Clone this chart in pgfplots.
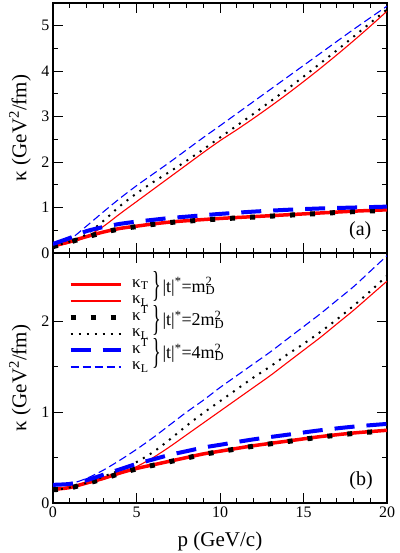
\documentclass[border=0pt]{standalone}
\usepackage{fontspec}
\setmainfont{Liberation Serif}
\usepackage{graphicx}
\usepackage{pgfplots}
\pgfplotsset{compat=1.18}

\definecolor{gred}{RGB}{255,0,0}
\definecolor{gblue}{RGB}{0,0,255}

\pgfplotsset{
  kapanel/.style={
    scale only axis, width=334pt, height=250pt,
    xmin=0, xmax=20, xtick={0,5,...,20},
    minor x tick num=4, minor y tick num=1,
    tick align=inside, major tick length=10pt, minor tick length=5pt,
    axis line style={line width=1.2pt},
    every tick/.style={line width=1pt, black},
    /pgf/number format/assume math mode=true,
    tick label style={font=\fontsize{16}{16}\selectfont},
    label style={font=\fontsize{21}{21}\selectfont},
    ylabel={κ (GeV\textsuperscript{2}/fm)},
    ylabel style={at={(axis description cs:-0.099,0.5)}, anchor=center},
    legend image code/.code={\draw[#1] (0pt,0pt) -- (50pt,0pt);},
  },
  kTm/.style={gred, line width=3.5pt, smooth},
  kLm/.style={gred, line width=1.1pt, smooth},
  kT2/.style={black, line width=5pt, dash pattern=on 5pt off 15pt, smooth},
  kL2/.style={black, line width=2pt, dash pattern=on 2pt off 6pt, smooth},
  kT4/.style={gblue, line width=4pt, dash pattern=on 20pt off 12pt, smooth},
  kL4/.style={gblue, line width=1.1pt, dash pattern=on 8pt off 4pt, smooth},
}
\tikzset{
  brc/.style={inner sep=0pt, font=\fontsize{36}{36}\selectfont},
  grp/.style={anchor=west, inner sep=0pt, font=\fontsize{18}{18}\selectfont},
}
\newcommand{\mD}{m\rlap{\textsubscript{D}}\textsuperscript{2}}

\begin{document}
\begin{tikzpicture}
\begin{axis}[kapanel, name=top,
  ymin=0, ymax=5.5, ytick={0,1,...,5}, xticklabels={}]
\addplot[kTm] coordinates {(0,0.15)(1,0.25)(2,0.36)(3,0.46)(4,0.54)(5,0.59)(6,0.64)(7,0.68)(8,0.71)(10,0.76)(12,0.80)(14,0.84)(16,0.88)(18,0.92)(20,0.95)};
\addplot[kLm] coordinates {(0,0.15)(1,0.22)(2,0.36)(3,0.58)(4,0.86)(5,1.13)(6,1.40)(7,1.67)(8,1.94)(9,2.21)(10,2.47)(11,2.71)(12,2.96)(13,3.22)(14,3.49)(15,3.77)(16,4.06)(17,4.36)(18,4.67)(19,4.99)(20,5.32)};
\addplot[kT2] coordinates {(0,0.14)(1,0.24)(2,0.35)(3,0.45)(4,0.53)(5,0.58)(6,0.63)(7,0.67)(8,0.70)(10,0.75)(12,0.79)(14,0.83)(16,0.87)(18,0.91)(20,0.94)};
\addplot[kL2] coordinates {(0,0.15)(1,0.25)(2,0.41)(3,0.70)(4,1.03)(5,1.31)(6,1.56)(7,1.79)(8,2.03)(9,2.28)(10,2.54)(11,2.80)(12,3.06)(13,3.33)(14,3.60)(15,3.88)(16,4.17)(17,4.46)(18,4.76)(19,5.06)(20,5.36)};
\addplot[kT4] coordinates {(0,0.20)(1,0.33)(2,0.48)(3,0.57)(4,0.64)(5,0.69)(6,0.73)(7,0.77)(8,0.80)(10,0.86)(12,0.91)(14,0.95)(16,0.98)(18,1.00)(20,1.02)};
\addplot[kL4] coordinates {(0,0.18)(1,0.30)(2,0.59)(3,0.90)(4,1.20)(5,1.48)(6,1.74)(7,2.00)(8,2.27)(9,2.54)(10,2.80)(12,3.33)(14,3.86)(16,4.39)(18,4.92)(20,5.43)};
\node[font=\fontsize{20}{20}\selectfont] at (axis cs:18.4,0.48) {(a)};
\end{axis}

\begin{axis}[kapanel, name=bot, at={(top.south west)}, anchor=north west,
  ymin=0, ymax=2.75, ytick={0,1,2},
  xlabel={p (GeV/c)}, xlabel style={yshift=-8pt},
  legend cell align=left,
  legend style={draw=none, fill=none, at={(axis description cs:0,1)}, anchor=north west,
    xshift=15pt, yshift=-23pt, inner sep=0pt, row sep=0pt, column sep=9pt,
    nodes={inner sep=0pt, text height=11pt, text depth=5.5pt, font=\fontsize{17}{17}\selectfont}}]
\addplot[kTm] coordinates {(0,0.15)(1,0.17)(2,0.22)(3,0.27)(4,0.33)(5,0.38)(6,0.42)(7,0.46)(8,0.50)(9,0.54)(10,0.57)(12,0.63)(14,0.68)(16,0.73)(18,0.77)(20,0.80)};
\addlegendentry{κ\textsubscript{T}}
\addplot[kLm] coordinates {(0,0.15)(1,0.17)(2,0.21)(3,0.26)(4,0.32)(5,0.40)(6,0.50)(7,0.62)(8,0.75)(9,0.88)(10,1.01)(11,1.14)(12,1.27)(13,1.40)(14,1.54)(15,1.68)(16,1.82)(17,1.97)(18,2.12)(19,2.28)(20,2.44)};
\addlegendentry{κ\textsubscript{L}}
\addplot[kT2] coordinates {(0,0.145)(1,0.165)(2,0.215)(3,0.265)(4,0.325)(5,0.375)(6,0.415)(7,0.455)(8,0.495)(9,0.535)(10,0.565)(12,0.625)(14,0.675)(16,0.725)(18,0.765)(20,0.795)};
\addlegendentry{κ\textsuperscript{T}}
\addplot[kL2] coordinates {(0,0.14)(1,0.17)(2,0.22)(3,0.29)(4,0.36)(5,0.45)(6,0.56)(7,0.70)(8,0.85)(9,0.99)(10,1.12)(11,1.25)(12,1.38)(13,1.50)(14,1.63)(15,1.75)(16,1.88)(17,2.02)(18,2.17)(19,2.33)(20,2.50)};
\addlegendentry{κ\textsubscript{L}}
\addplot[kT4] coordinates {(0,0.20)(1,0.21)(2,0.25)(3,0.31)(4,0.37)(5,0.43)(6,0.48)(7,0.53)(8,0.57)(9,0.61)(10,0.64)(12,0.70)(14,0.75)(16,0.80)(18,0.84)(20,0.87)};
\addlegendentry{κ\textsuperscript{T}}
\addplot[kL4] coordinates {(0,0.19)(1,0.21)(2,0.27)(3,0.36)(4,0.47)(5,0.59)(6,0.72)(7,0.86)(8,1.00)(9,1.13)(10,1.27)(11,1.40)(12,1.53)(13,1.66)(14,1.80)(15,1.94)(16,2.08)(17,2.23)(18,2.38)(19,2.55)(20,2.72)};
\addlegendentry{κ\textsubscript{L}}
\node[font=\fontsize{20}{20}\selectfont] at (axis cs:18.45,0.25) {(b)};
\node[brc] at (axis cs:6.2,2.38) {\scalebox{0.5}[1]{\}}};
\node[brc] at (axis cs:6.2,2.01) {\scalebox{0.5}[1]{\}}};
\node[brc] at (axis cs:6.2,1.65) {\scalebox{0.5}[1]{\}}};
\node[grp] at (axis cs:6.55,2.38) {|t|\textsuperscript{*}=\mD};
\node[grp] at (axis cs:6.55,2.01) {|t|\textsuperscript{*}=2\mD};
\node[grp] at (axis cs:6.55,1.65) {|t|\textsuperscript{*}=4\mD};
\end{axis}
\pgfresetboundingbox
\path[use as bounding box] ([xshift=-53pt,yshift=3pt]top.north west) rectangle ([xshift=12pt,yshift=-50pt]bot.south east);
\end{tikzpicture}
\end{document}
